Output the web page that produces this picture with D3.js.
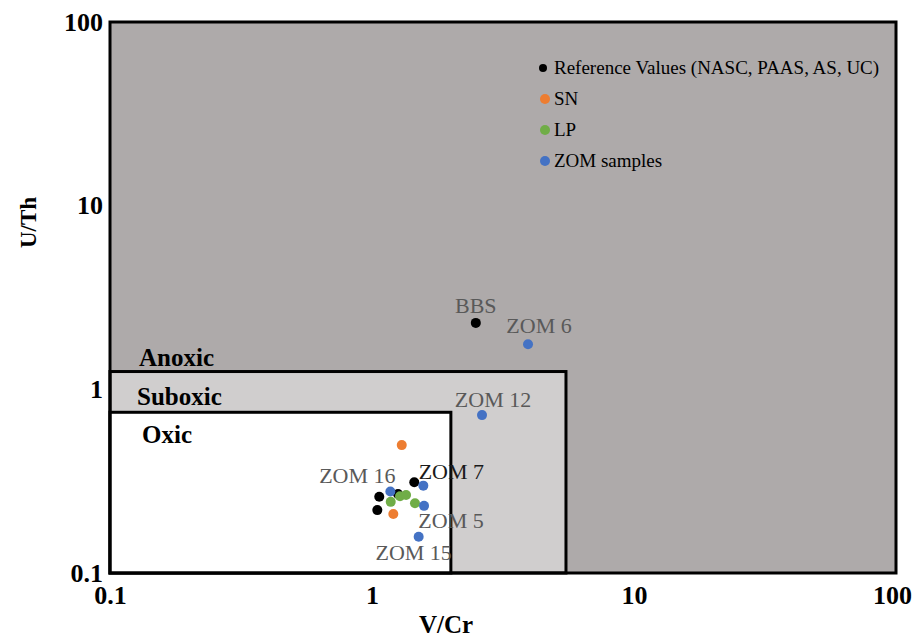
<!DOCTYPE html>
<html>
<head>
<meta charset="utf-8">
<script src="https://cdn.jsdelivr.net/npm/d3@7"></script>
<style>
  html, body { margin: 0; padding: 0; background: #ffffff; }
  svg { display: block; }
</style>
</head>
<body>
<svg id="chart" width="916" height="638"></svg>
<script>
const SERIF = "'Liberation Serif', 'Times New Roman', Tinos, 'DejaVu Serif', serif";

// Axis ticks (log scales)
const xTicks = [0.1, 1, 10, 100];
const yTicks = [0.1, 1, 10, 100];
const xTickLabels = ["0.1", "1", "10", "100"];
const yTickLabels = ["0.1", "1", "10", "100"];

// Redox field limits: V/Cr and U/Th upper bounds
const zoneNames = ["Suboxic", "Oxic"];
const zoneVCr = [5.5, 2];
const zoneUTh = [1.25, 0.75];

// Series: V/Cr and U/Th ratios
const refVCr = [1.45, 1.257, 1.066, 1.048, 2.49];
const refUTh = [0.312, 0.269, 0.260, 0.220, 2.30];
const refLabels = ["", "", "", "", "BBS"];

const snVCr = [1.299, 1.206];
const snUTh = [0.497, 0.2095];

const lpVCr = [1.279, 1.349, 1.179, 1.459];
const lpUTh = [0.262, 0.266, 0.244, 0.240];

const zomVCr = [3.94, 2.63, 1.57, 1.175, 1.58, 1.507];
const zomUTh = [1.76, 0.724, 0.299, 0.278, 0.232, 0.1576];
const zomLabels = ["ZOM 6", "ZOM 12", "ZOM 7", "ZOM 16", "ZOM 5", "ZOM 15"];

const seriesNames = ["Reference Values (NASC, PAAS, AS, UC)", "SN", "LP", "ZOM samples"];
const seriesColors = ["#000000", "#ed7d31", "#70ad47", "#4472c4"];

// Layout
const margin = { left: 110, right: 20, top: 22, bottom: 65 };
const W = 916, H = 638;
const svg = d3.select("#chart");

const x = d3.scaleLog().domain([0.1, 100]).range([margin.left, W - margin.right]);
const y = d3.scaleLog().domain([0.1, 100]).range([H - margin.bottom, margin.top]);

function serifText(sel, size, weight) {
  return sel.attr("font-family", SERIF).attr("font-size", size).attr("font-weight", weight || "normal");
}

// Anoxic background (whole plot area)
svg.append("rect")
  .attr("x", x(0.1)).attr("y", y(100))
  .attr("width", x(100) - x(0.1)).attr("height", y(0.1) - y(100))
  .attr("fill", "#aeaaaa");

// Suboxic and oxic fields
const zoneFills = ["#d0cece", "#ffffff"];
zoneNames.forEach((n, i) => {
  svg.append("rect")
    .attr("x", x(0.1)).attr("y", y(zoneUTh[i]))
    .attr("width", x(zoneVCr[i]) - x(0.1))
    .attr("height", y(0.1) - y(zoneUTh[i]))
    .attr("fill", zoneFills[i])
    .attr("stroke", "#000").attr("stroke-width", 3);
});

// Plot border
svg.append("rect")
  .attr("x", x(0.1)).attr("y", y(100))
  .attr("width", x(100) - x(0.1)).attr("height", y(0.1) - y(100))
  .attr("fill", "none").attr("stroke", "#000").attr("stroke-width", 3);

// Zone labels
serifText(svg.append("text").attr("x", x(0.1) + 29).attr("y", y(zoneUTh[0]) - 6), 25, "bold").text("Anoxic");
serifText(svg.append("text").attr("x", x(0.1) + 27).attr("y", y(zoneUTh[1]) - 7), 25, "bold").text("Suboxic");
serifText(svg.append("text").attr("x", x(0.1) + 32).attr("y", y(zoneUTh[1]) + 31), 25, "bold").text("Oxic");

// Axes (tick labels only; the border draws the axis lines)
const xAxis = d3.axisBottom(x).tickValues(xTicks)
  .tickFormat((d, i) => xTickLabels[i]).tickSize(0).tickPadding(13);
const gx = svg.append("g").attr("transform", `translate(0,${y(0.1)})`).call(xAxis);
gx.select(".domain").remove();
gx.attr("font-family", null).attr("font-size", null);
serifText(gx.selectAll("text"), 26, "bold").attr("fill", "#000");
gx.selectAll(".tick").filter(d => d === 100).select("text").attr("dx", -4);

const yAxis = d3.axisLeft(y).tickValues(yTicks)
  .tickFormat((d, i) => yTickLabels[i]).tickSize(0).tickPadding(7);
const gy = svg.append("g").attr("transform", `translate(${x(0.1)},0)`).call(yAxis);
gy.select(".domain").remove();
gy.attr("font-family", null).attr("font-size", null);
serifText(gy.selectAll("text"), 26, "bold").attr("fill", "#000");

// Axis titles
serifText(svg.append("text").attr("x", (x(0.1) + x(100)) / 2 - 57).attr("y", 633)
  .attr("text-anchor", "middle"), 25, "bold").text("V/Cr");
serifText(svg.append("text").attr("transform", `translate(36,${(y(0.1) + y(100)) / 2 - 75}) rotate(-90)`)
  .attr("text-anchor", "middle"), 23, "bold").text("U/Th");

// Points
const series = [
  { vcr: refVCr, uth: refUTh, labels: refLabels },
  { vcr: snVCr, uth: snUTh, labels: null },
  { vcr: lpVCr, uth: lpUTh, labels: null },
  { vcr: zomVCr, uth: zomUTh, labels: zomLabels }
];
series.forEach((s, si) => {
  svg.append("g").selectAll("circle")
    .data(s.vcr.map((v, i) => [v, s.uth[i]]))
    .join("circle")
    .attr("cx", d => x(d[0])).attr("cy", d => y(d[1]))
    .attr("r", 5).attr("fill", seriesColors[si]);
});

// Point labels: offsets from the point in pixels
const labelOffsets = {
  "BBS":    [0, -10, "#595959"],
  "ZOM 6":  [11, -11, "#595959"],
  "ZOM 12": [11, -8, "#595959"],
  "ZOM 7":  [28, -7, "#1a1a1a"],
  "ZOM 16": [-33, -8, "#595959"],
  "ZOM 5":  [27, 22, "#595959"],
  "ZOM 15": [-5, 23, "#595959"]
};
series.forEach(s => {
  if (!s.labels) return;
  s.labels.forEach((lab, i) => {
    if (!lab) return;
    const o = labelOffsets[lab];
    serifText(svg.append("text")
      .attr("x", x(s.vcr[i]) + o[0]).attr("y", y(s.uth[i]) + o[1])
      .attr("text-anchor", "middle"), 22)
      .attr("fill", o[2]).text(lab);
  });
});

// Legend
const legendX = 545, legendY0 = 68, legendStep = 31;
const lg = svg.append("g");
seriesNames.forEach((n, i) => {
  const cy = legendY0 + i * legendStep;
  lg.append("circle").attr("cx", i === 0 ? legendX - 2 : legendX).attr("cy", cy)
    .attr("r", i === 0 ? 4 : 5).attr("fill", seriesColors[i]);
  serifText(lg.append("text").attr("x", legendX + 9).attr("y", cy + 6), 19)
    .attr("fill", "#000").text(n);
});
</script>
</body>
</html>
